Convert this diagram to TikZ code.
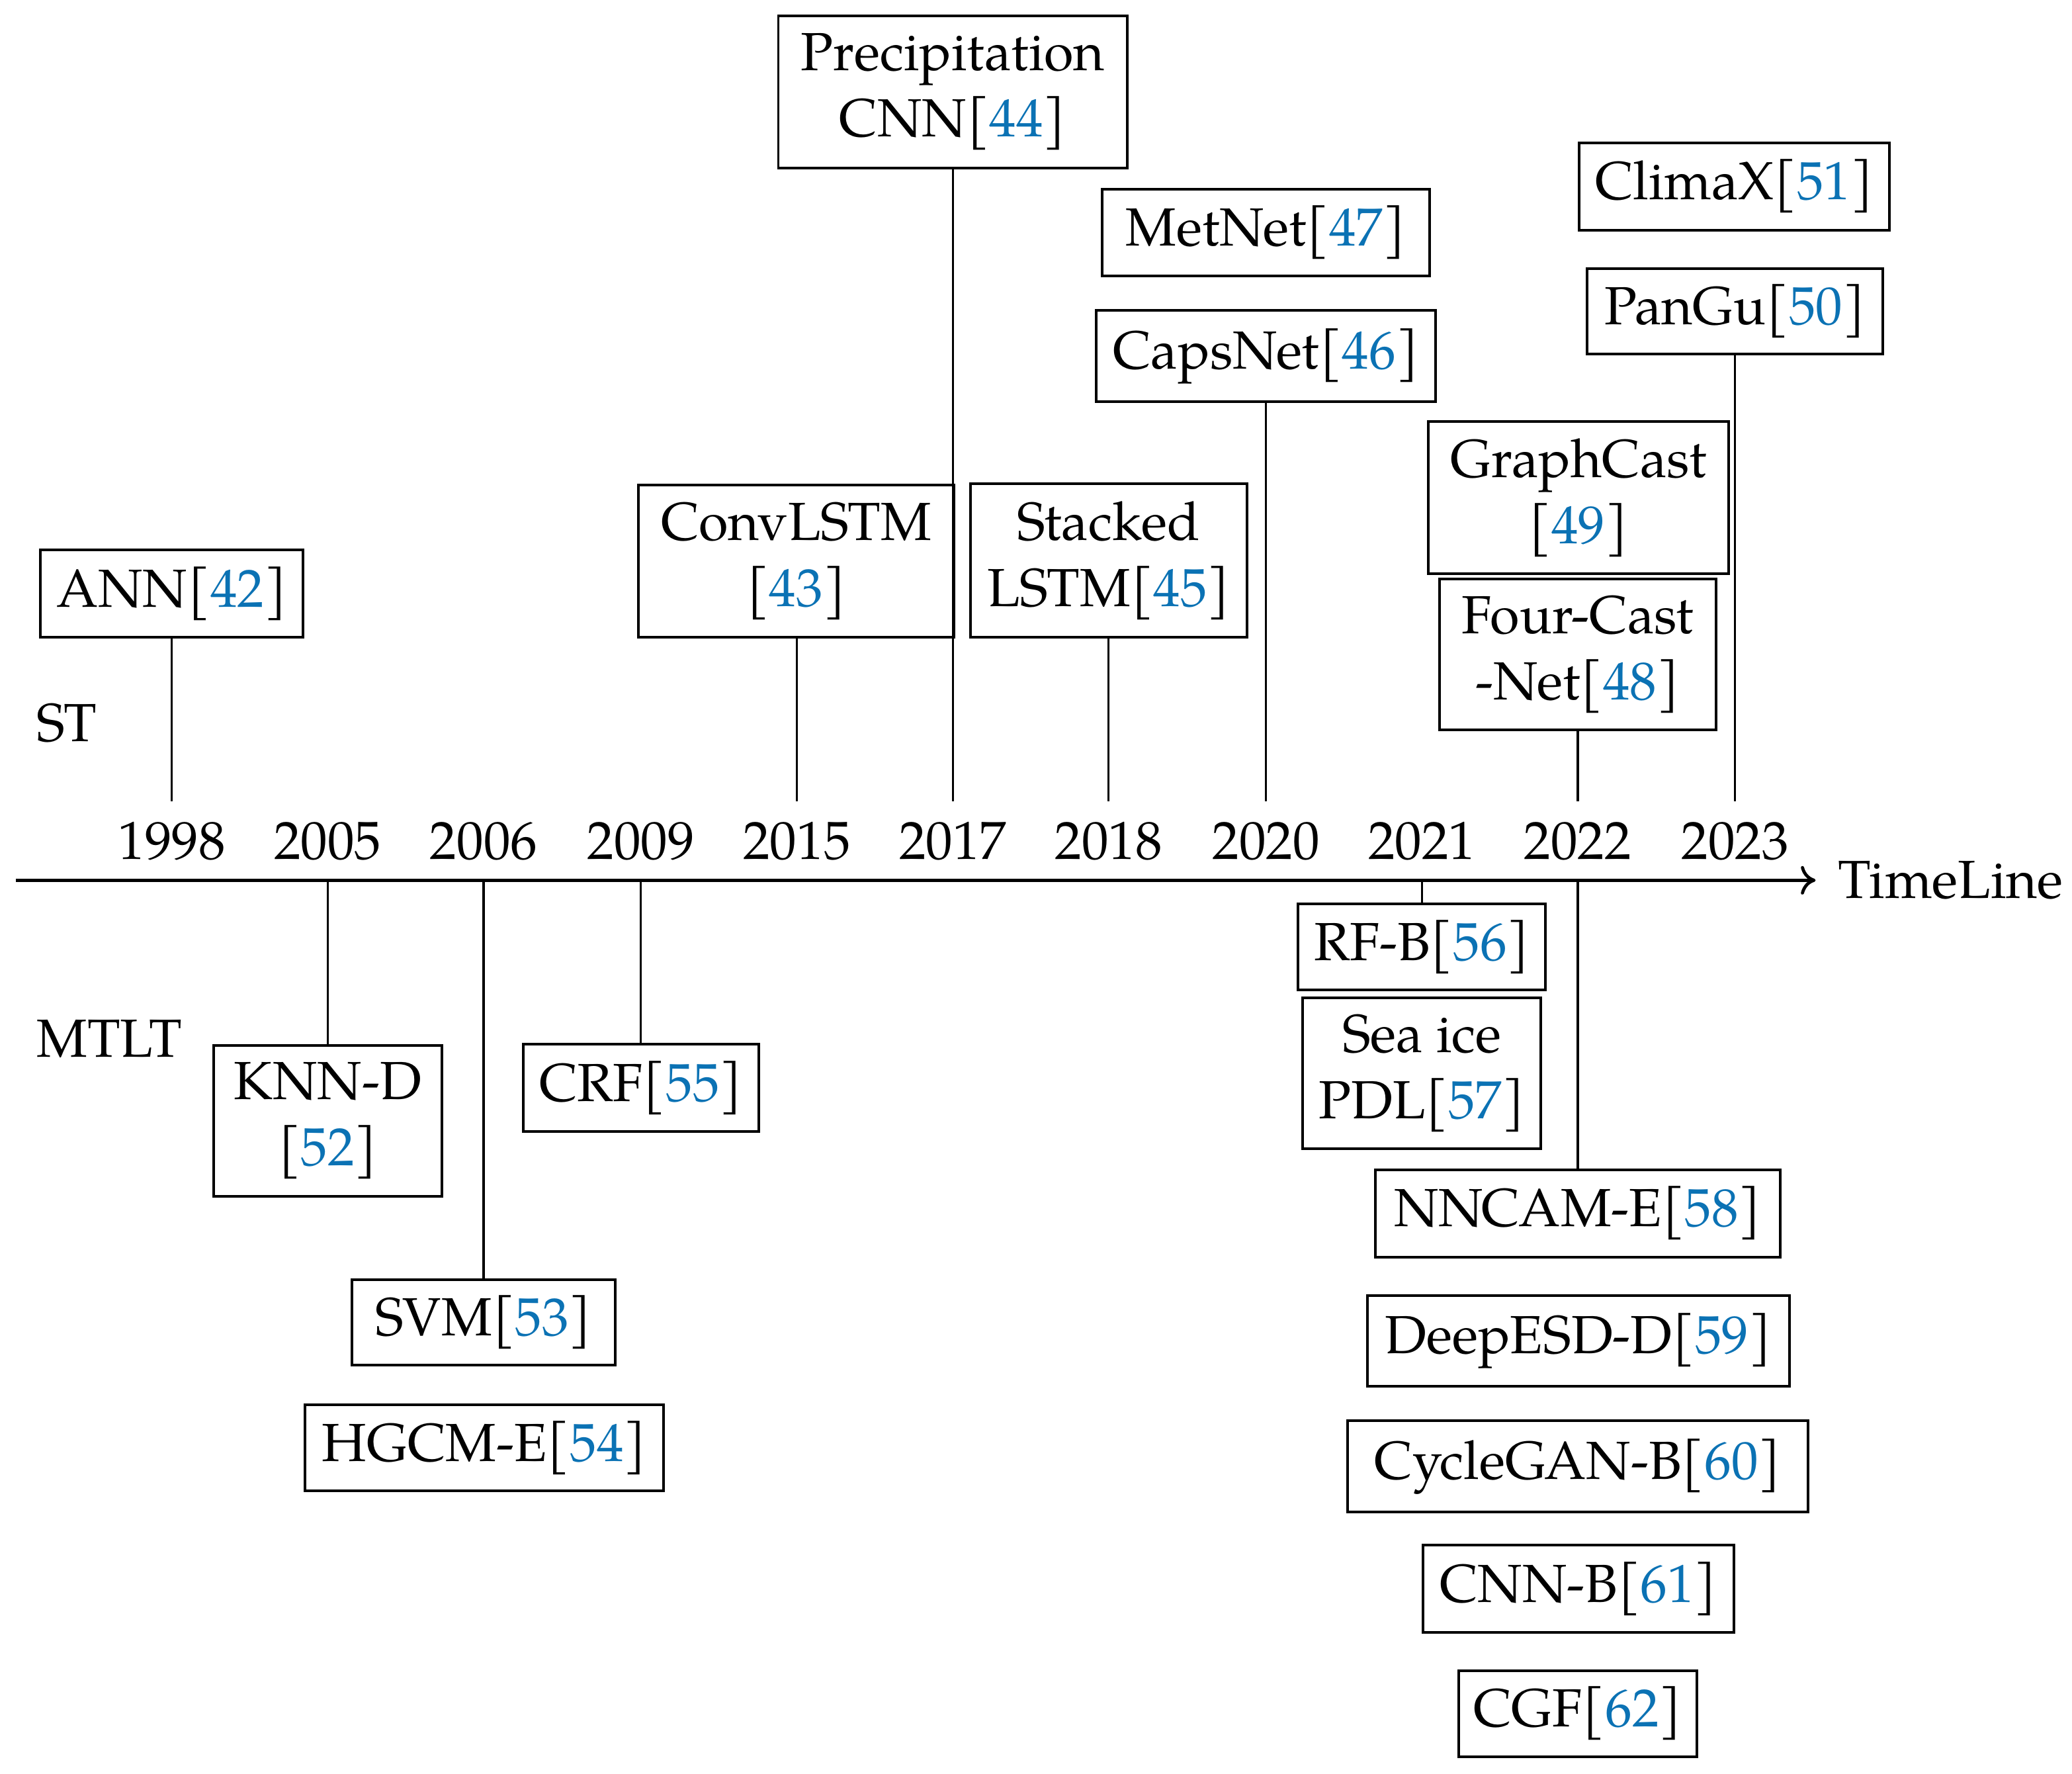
\documentclass[tikz,border=0pt]{standalone}
\usepackage{fontspec}
\setmainfont{TeX Gyre Pagella}
\usetikzlibrary{arrows.meta}
\definecolor{citeblue}{RGB}{11,114,180}
\newcommand{\rc}[1]{[\textcolor{citeblue}{#1}]}
\begin{document}
\begin{tikzpicture}[x=0.25pt,y=-0.25pt,
  font=\fontsize{10.15}{12.5}\selectfont,
  bx/.style 2 args={draw, line width=0.5pt, inner sep=0pt, align=center,
    minimum width=#1*0.25pt, minimum height=#2*0.25pt},
  yr/.style={inner sep=0pt, anchor=base, text height=10.75pt},
  lbl/.style={inner sep=0pt, anchor=base west},
  conn/.style={line width=0.4pt},
  axis/.style={line width=0.6pt, -{Computer Modern Rightarrow[length=2.8pt,width=5.4pt]}}]
\useasboundingbox (0,0) rectangle (1568,1342);

% timeline
\coordinate (tl0) at (12,666);
\node[anchor=west, inner xsep=4pt, inner ysep=0pt] (tlab) at (1374,666) {TimeLine};
\draw[axis] (tl0) -- (tlab.west);

% axis points for lower connectors
\coordinate (a2005) at (248,666);
\coordinate (a2006) at (366,666);
\coordinate (a2009) at (485,666);
\coordinate (a2021) at (1076,666);
\coordinate (a2022) at (1194,666);

% years
\node[yr] (y1998) at (130,650) {1998};
\node[yr] (y2005) at (248,650) {2005};
\node[yr] (y2006) at (366,650) {2006};
\node[yr] (y2009) at (485,650) {2009};
\node[yr] (y2015) at (603,650) {2015};
\node[yr] (y2017) at (721,650) {2017};
\node[yr] (y2018) at (839,650) {2018};
\node[yr] (y2020) at (958,650) {2020};
\node[yr] (y2021) at (1076,650) {2021};
\node[yr] (y2022) at (1194,650) {2022};
\node[yr] (y2023) at (1313,650) {2023};

% side labels
\node[lbl] (st) at (27,561) {ST};
\node[lbl] (mtlt) at (27,800) {MTLT};

% upper boxes
\node[bx={199}{66}] (ann) at (130,449) {ANN\rc{42}};
\node[bx={239}{115}] (convlstm) at (602.5,424.5) {ConvLSTM\\\rc{43}};
\node[bx={264}{115}] (prec) at (721,69.5) {Precipitation\\CNN\rc{44}};
\node[bx={209}{116}] (stacked) at (839,424) {Stacked\\LSTM\rc{45}};
\node[bx={257}{69}] (caps) at (958,269.5) {CapsNet\rc{46}};
\node[bx={248}{66}] (metnet) at (958,176) {MetNet\rc{47}};
\node[bx={227}{115}] (graphcast) at (1194.5,376.5) {GraphCast\\\rc{49}};
\node[bx={209}{114}] (fourcast) at (1194,495) {Four-Cast\\-Net\rc{48}};
\node[bx={235}{66}] (climax) at (1312.5,141) {ClimaX\rc{51}};
\node[bx={224}{65}] (pangu) at (1313,235.5) {PanGu\rc{50}};

% lower boxes
\node[bx={173}{114}] (knn) at (248,848) {KNN-D\\\rc{52}};
\node[bx={199}{65}] (svm) at (366,1000.5) {SVM\rc{53}};
\node[bx={271}{65}] (hgcm) at (366.5,1095.5) {HGCM-E\rc{54}};
\node[bx={178}{66}] (crf) at (485,823) {CRF\rc{55}};
\node[bx={187}{65}] (rfb) at (1076,716.5) {RF-B\rc{56}};
\node[bx={180}{114}] (seaice) at (1076,812) {Sea ice\\PDL\rc{57}};
\node[bx={306}{66}] (nncam) at (1194,918) {NNCAM-E\rc{58}};
\node[bx={319}{69}] (deepesd) at (1194.5,1014.5) {DeepESD-D\rc{59}};
\node[bx={348}{69}] (cyclegan) at (1194,1109.5) {CycleGAN-B\rc{60}};
\node[bx={235}{66}] (cnnb) at (1194.5,1202) {CNN-B\rc{61}};
\node[bx={180}{65}] (cgf) at (1194,1296.5) {CGF\rc{62}};

% upper connectors
\draw[conn] (ann.south) -- (y1998.north);
\draw[conn] (convlstm.south -| y2015.north) -- (y2015.north);
\draw[conn] (prec.south) -- (y2017.north);
\draw[conn] (stacked.south) -- (y2018.north);
\draw[conn] (caps.south) -- (y2020.north);
\draw[conn] (fourcast.south) -- (y2022.north);
\draw[conn] (pangu.south) -- (y2023.north);

% lower connectors
\draw[conn] (a2005) -- (knn.north);
\draw[conn] (a2006) -- (svm.north);
\draw[conn] (a2009) -- (crf.north);
\draw[conn] (a2021) -- (rfb.north);
\draw[conn] (a2022) -- (nncam.north);
\end{tikzpicture}
\end{document}
